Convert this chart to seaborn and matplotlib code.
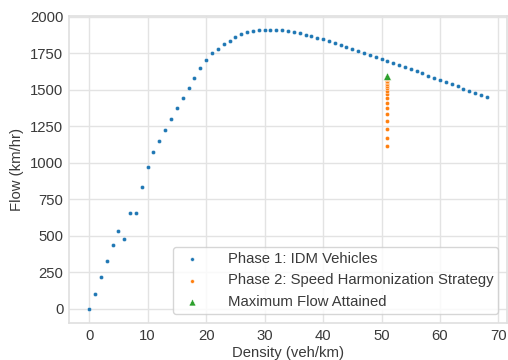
import matplotlib
matplotlib.use("Agg")
import matplotlib.pyplot as plt
import seaborn as sns

density_p1 = list(range(0, 69))
flow_p1 = [0, 101, 218, 325, 433, 534, 476, 655, 655, 832,
           969, 1070, 1149, 1224, 1299, 1373, 1443, 1514, 1582, 1649,
           1705, 1749, 1781, 1811, 1836, 1859, 1879, 1893, 1901, 1907,
           1909, 1911, 1911, 1909, 1904, 1895, 1886, 1877, 1866, 1856,
           1845, 1834, 1822, 1808, 1795, 1781, 1767, 1753, 1740, 1726,
           1712, 1699, 1685, 1671, 1655, 1642, 1626, 1612, 1596, 1580,
           1566, 1553, 1539, 1523, 1507, 1493, 1479, 1466, 1448]

flow_p2 = [1116, 1172, 1228, 1284, 1332, 1373, 1409, 1441, 1468, 1491,
           1510, 1527, 1541, 1553, 1563, 1571, 1577, 1582, 1586]
density_p2 = [51] * len(flow_p2)

max_density = [51]
max_flow = [1592]

labels = ["Phase 1: IDM Vehicles", "Phase 2: Speed Harmonization Strategy",
          "Maximum Flow Attained"]

sns.set_theme(style="whitegrid", rc={"grid.color": "#e3e3e3",
                                     "axes.edgecolor": "#e0e0e0",
                                     "grid.linewidth": 1.0})
plt.rcParams['font.family'] = ['Liberation Sans', 'DejaVu Sans']
FS = 10.7
txt = "#3a3a3a"

fig = plt.figure(figsize=(5.08, 3.6), dpi=100)
ax = fig.add_subplot(111)
fig.subplots_adjust(left=0.1364, right=0.9974, top=0.956, bottom=0.104)

pal = sns.color_palette("tab10")
sns.scatterplot(x=density_p1, y=flow_p1, ax=ax, s=9, color=pal[0],
                linewidth=0.3, edgecolor="white", label=labels[0])
sns.scatterplot(x=density_p2, y=flow_p2, ax=ax, s=9, color=pal[1],
                linewidth=0.3, edgecolor="white", label=labels[1])
sns.scatterplot(x=max_density, y=max_flow, ax=ax, s=30, color=pal[2],
                marker="^", linewidth=0.3, edgecolor="white", label=labels[2])

ax.set_xlabel("Density (veh/km)", fontsize=FS, labelpad=2, color=txt)
ax.set_ylabel("Flow (km/hr)", fontsize=FS, labelpad=4, color=txt)
ax.tick_params(axis="x", labelsize=FS, length=0, pad=4.5, colors=txt)
ax.tick_params(axis="y", labelsize=FS, length=0, pad=4.3, colors=txt)
ax.set_xticks([0, 10, 20, 30, 40, 50, 60, 70])
ax.set_yticks([0, 250, 500, 750, 1000, 1250, 1500, 1750, 2000])

leg = ax.legend(loc="lower right", fontsize=FS, markerscale=0.9, frameon=True,
                borderpad=0.3, labelspacing=0.52, handletextpad=1.4,
                handlelength=2.0, borderaxespad=0.6)
for t in leg.get_texts():
    t.set_color(txt)

fig.savefig("out.png", dpi=100)
